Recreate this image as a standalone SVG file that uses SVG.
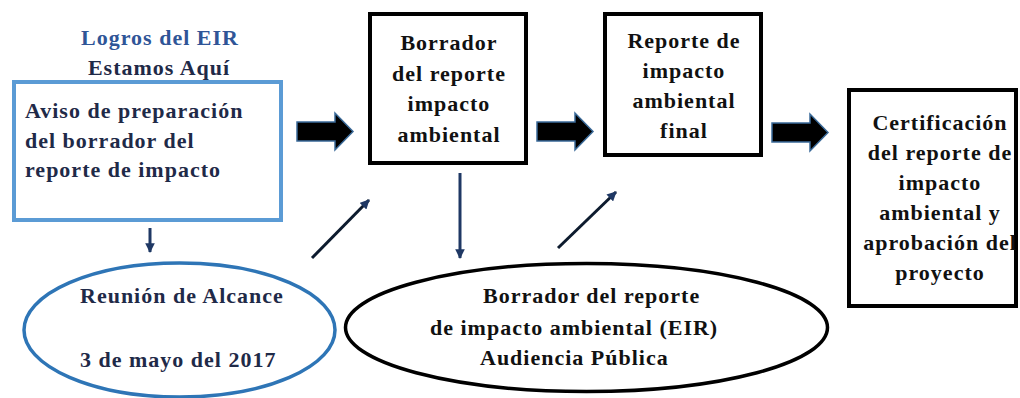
<svg xmlns="http://www.w3.org/2000/svg" width="1020" height="398" viewBox="0 0 1020 398">
<defs>
<style>
text{font-family:"Liberation Serif","Times New Roman",serif;font-weight:bold;font-size:22px;letter-spacing:1px;fill:#111}
.navy{fill:#1f2a48}
.title{fill:#2f5597}
.mid{text-anchor:middle}
.box{fill:#fff;stroke:#000;stroke-width:4}
.bluebox{fill:#fff;stroke:#5b9bd5;stroke-width:4}
.block{fill:#000;stroke:#3a6a99;stroke-width:1.5;stroke-linejoin:miter}
.thin{stroke:#1f3864;stroke-width:3;fill:none;marker-end:url(#ah)}
.diag{stroke:#0d1b2e;stroke-width:3;fill:none;marker-end:url(#ah)}
</style>
<marker id="ah" viewBox="0 0 10 10" refX="9" refY="5" markerWidth="3.2" markerHeight="3.2" orient="auto" markerUnits="strokeWidth">
<path d="M0,0 L10,5 L0,10 Z" fill="#1f3864"/>
</marker>
<path id="blk" d="M0,9 H38 V0 L56,18.5 L38,37 V28 H0 Z"/>
</defs>
<rect width="1020" height="398" fill="#fff"/>

<g id="title">
<text class="title mid" x="160" y="45">Logros del EIR</text>
<text class="navy mid" x="159" y="75">Estamos Aquí</text>
</g>

<g id="connectors">
<use href="#blk" class="block" x="297" y="113"/>
<use href="#blk" class="block" x="537" y="113"/>
<use href="#blk" class="block" x="772" y="114"/>
<line class="thin" x1="150" y1="228" x2="150" y2="252"/>
<line class="thin" x1="460" y1="173" x2="460" y2="258"/>
<line class="diag" x1="312" y1="258" x2="369" y2="200"/>
<line class="diag" x1="558" y1="248" x2="616" y2="192"/>
</g>

<g id="node-aviso">
<rect class="bluebox" x="14" y="82" width="267" height="138"/>
<text class="navy" x="25" y="118">Aviso de preparación</text>
<text class="navy" x="25" y="148">del borrador del</text>
<text class="navy" x="25" y="177">reporte de impacto</text>
</g>

<g id="node-borrador">
<rect class="box" x="370" y="14" width="156" height="149"/>
<text class="mid" x="449" y="50">Borrador</text>
<text class="mid" x="449" y="81">del reporte</text>
<text class="mid" x="449" y="111">impacto</text>
<text class="mid" x="449" y="142">ambiental</text>
</g>

<g id="node-final">
<rect class="box" x="605" y="14" width="156" height="141"/>
<text class="mid" x="684" y="48">Reporte de</text>
<text class="mid" x="684" y="78">impacto</text>
<text class="mid" x="684" y="108">ambiental</text>
<text class="mid" x="684" y="138">final</text>
</g>

<g id="node-certificacion">
<rect class="box" x="849" y="90" width="167" height="216"/>
<text class="mid" x="940" y="130">Certificación</text>
<text class="mid" x="940" y="160">del reporte de</text>
<text class="mid" x="940" y="190">impacto</text>
<text class="mid" x="940" y="220">ambiental y</text>
<text class="mid" x="940" y="250">aprobación del</text>
<text class="mid" x="940" y="280">proyecto</text>
</g>

<g id="node-reunion">
<ellipse cx="179.5" cy="330" rx="155.5" ry="67" fill="#fff" stroke="#2e75b6" stroke-width="3.5"/>
<text class="navy" x="80" y="303">Reunión de Alcance</text>
<text class="navy" x="80" y="367">3 de mayo del 2017</text>
</g>

<g id="node-audiencia">
<ellipse cx="586.5" cy="327.5" rx="241" ry="64" fill="#fff" stroke="#000" stroke-width="3.5"/>
<text x="483" y="303">Borrador del reporte</text>
<text x="430" y="335">de impacto ambiental (EIR)</text>
<text x="480" y="365">Audiencia Pública</text>
</g>
</svg>
